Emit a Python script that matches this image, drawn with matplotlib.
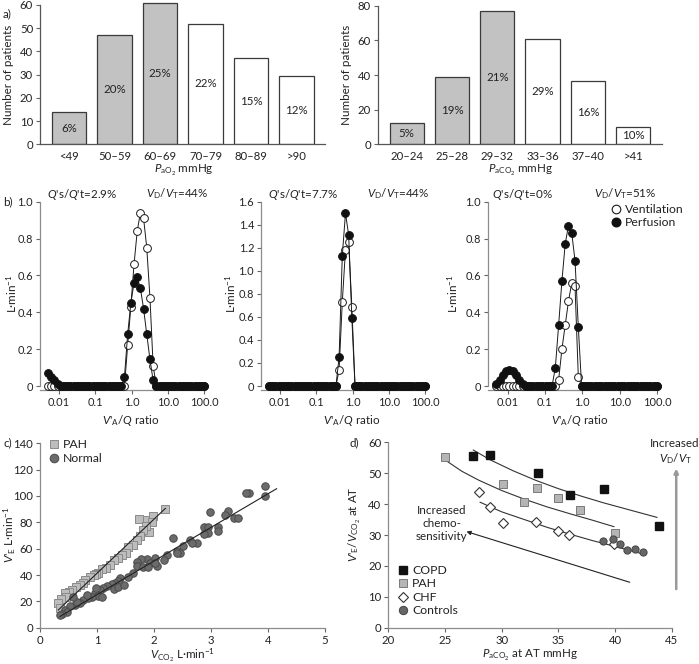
import matplotlib.pyplot as plt
import numpy as np
from matplotlib.lines import Line2D

plt.rcParams['font.family'] = ['Lato', 'DejaVu Sans']
plt.rcParams['font.size'] = 8.3
plt.rcParams['mathtext.fontset'] = 'custom'
plt.rcParams['mathtext.rm'] = 'Lato'
plt.rcParams['mathtext.it'] = 'Lato:italic'
plt.rcParams['mathtext.bf'] = 'Lato:bold'
plt.rcParams['text.color'] = '#222222'
plt.rcParams['xtick.color'] = '#666666'
plt.rcParams['ytick.color'] = '#666666'
plt.rcParams['xtick.labelcolor'] = '#222222'
plt.rcParams['ytick.labelcolor'] = '#222222'

W, H = 699, 664

# ---- a) patient counts
pao2_bins = ['<49', '50–59', '60–69', '70–79', '80–89', '>90']
pao2_counts = [14, 47, 61, 52, 37, 29.5]
pao2_pct = ['6%', '20%', '25%', '22%', '15%', '12%']
pao2_grey = [True, True, True, False, False, False]

paco2_bins = ['20–24', '25–28', '29–32', '33–36', '37–40', '>41']
paco2_counts = [12.5, 39, 77, 61, 36.5, 10]
paco2_pct = ['5%', '19%', '21%', '29%', '16%', '10%']
paco2_grey = [True, True, True, False, False, False]

# ---- b) V'A/Q distributions, 50 compartments 0.005-100
vq = np.geomspace(0.005, 100, 50)
b1_vent = [0]*25 + [0.22, 0.43, 0.66, 0.84, 0.94, 0.91, 0.75, 0.48, 0.11] + [0]*16
b1_perf = [0.072, 0.05, 0.03, 0.012] + [0]*20 + [0.05, 0.28, 0.45, 0.56, 0.59, 0.53, 0.42, 0.28, 0.145, 0.03] + [0]*16
b2_vent = [0]*22 + [0.14, 0.73, 1.18, 1.25, 0.69] + [0]*23
b2_perf = [0]*22 + [0.25, 1.13, 1.50, 1.31, 0.59] + [0]*23
b3_vent = [0]*19 + [0.033, 0.20, 0.33, 0.46, 0.56, 0.54, 0.05] + [0]*24
b3_perf = [0.01, 0.03, 0.06, 0.08, 0.088, 0.08, 0.06, 0.03, 0.01] + [0]*9 + [0.10, 0.33, 0.57, 0.77, 0.87, 0.83, 0.68, 0.32] + [0]*24
b_shunt = ['2.9%', '7.7%', '0%']
b_vdvt = ['44%', '44%', '51%']

# ---- c) VE vs VCO2
pah_vco2 = [2.19, 1.73, 1.87, 1.99, 1.96, 1.92, 1.86, 1.81, 1.75, 1.71, 1.64, 1.55, 1.51, 1.43, 1.37,
            1.29, 1.23, 1.16, 1.08, 1.02, 0.99, 0.94, 0.88, 0.79, 0.75, 0.70, 0.63, 0.57, 0.50, 0.44,
            0.46, 0.37, 0.32, 0.35]
pah_ve = [90.4, 82.5, 82, 84.8, 80.3, 72.9, 77.2, 74, 70, 66.6, 62.8, 61.5, 56.5, 55.2, 52.7,
          51.4, 47.6, 45, 44.3, 41.8, 40.8, 40, 38.7, 36.2, 34.2, 32.4, 31.1, 28.6, 27.3, 26,
          23.5, 21.5, 18.5, 14.7]
norm_vco2 = [3.95, 3.95, 3.67, 3.61, 3.29, 2.98, 3.25, 3.41, 3.48, 2.87, 2.94, 3.13, 3.13, 2.95, 2.87,
             2.33, 2.64, 2.75, 2.66, 2.50, 2.40, 2.46, 2.40, 2.23, 2.18, 2.02, 1.87, 1.78, 1.70, 1.70,
             1.81, 1.93, 2.05, 2.02, 1.90, 1.63, 1.55, 1.40, 1.36, 1.32, 1.26, 1.17, 1.11, 1.05, 0.96,
             1.02, 0.91, 0.85, 0.76, 0.70, 0.61, 0.53, 0.44, 0.47, 0.38, 0.35, 1.08, 1.29, 1.37, 1.47,
             0.99, 0.82, 0.65, 0.58]
norm_ve = [107.6, 100, 102.5, 102, 88.9, 87.6, 85.6, 83, 83, 76.7, 76.7, 76.7, 73.7, 71.6, 71.1,
           67.8, 66.6, 64.6, 64, 62.3, 58.2, 57, 56.5, 55.2, 51.4, 52.7, 51.9, 51.9, 50.1, 46.8,
           45.8, 48.9, 46.8, 48.9, 46.3, 41.8, 38.7, 37.5, 35.7, 34.2, 33.2, 31.9, 29.9, 28.6, 26.6,
           24.3, 23.5, 22.3, 21, 18.5, 17.2, 16.5, 13.4, 12.2, 10.4, 9.6, 23.5, 29.1, 31.1, 32.4,
           29.9, 24.8, 19.7, 23.5]
pah_fit_x = [0.32, 2.2]
pah_fit_y = [13.4, 90.6]
norm_fit_x = [0.35, 4.15]
norm_fit_y = [8.5, 105.5]

# ---- d) VE/VCO2 vs PaCO2 at AT
copd_x = [27.5, 29.0, 33.2, 36.0, 39.0, 43.9]
copd_y = [55.7, 55.9, 50.0, 42.9, 44.9, 33.0]
pah_x = [25.0, 30.1, 33.1, 32.0, 35.0, 36.9, 40.0]
pah_y = [55.4, 46.5, 45.1, 40.6, 41.9, 38.1, 30.8]
chf_x = [28.0, 29.0, 30.1, 33.0, 35.0, 35.9, 39.9]
chf_y = [43.8, 39.2, 33.8, 34.1, 31.3, 30.0, 27.1]
ctrl_x = [38.9, 39.8, 40.4, 41.1, 41.8, 42.5]
ctrl_y = [28.1, 28.6, 27.1, 25.1, 25.5, 24.6]
copd_curve_x = [27.5, 29, 31, 33, 35, 37, 39, 41, 43.7]
copd_curve_y = [57.5, 54.3, 50.8, 47.7, 45.0, 42.6, 40.4, 38.4, 35.7]
pah_curve_x = [25, 26.5, 28, 30, 32, 34, 36, 38, 39.9]
pah_curve_y = [54.3, 50.6, 47.7, 44.4, 41.6, 39.1, 36.9, 34.8, 32.7]
chf_curve_x = [28.1, 30, 32, 34, 36, 38, 40, 42.5]
chf_curve_y = [40.6, 37.5, 35.0, 32.5, 30.3, 28.2, 26.3, 23.8]


fig = plt.figure(figsize=(W / 100, H / 100), dpi=100)


def px_axes(left, top, right, bottom):
    return fig.add_axes([left / W, 1 - bottom / H, (right - left) / W, (bottom - top) / H])


def style(ax, spine='#8c8c8c'):
    for s in ['top', 'right']:
        ax.spines[s].set_visible(False)
    for s in ['left', 'bottom']:
        ax.spines[s].set_color(spine)
        ax.spines[s].set_linewidth(0.9)
    ax.tick_params(length=3, width=0.8, labelsize=8.2, pad=2)


def ftext(x, y, s, **kw):
    kw.setdefault('ha', 'center')
    kw.setdefault('va', 'center')
    kw.setdefault('fontsize', 8.4)
    fig.text(x / W, 1 - y / H, s, **kw)


def ylab(x, y, s):
    ftext(x, y, s, rotation=90)


# a) panels
def bar_panel(box, cats, counts, pct, grey, ymax, ytop, yticks):
    ax = px_axes(*box)
    style(ax, '#555555')
    cols = ['#c2c2c2' if g else 'white' for g in grey]
    ax.bar(range(len(cats)), counts, width=0.755, color=cols, edgecolor='#3a3a3a', linewidth=0.9)
    for i, (c, p) in enumerate(zip(counts, pct)):
        ax.text(i, c / 2, p, ha='center', va='center', fontsize=8.3)
    ax.set_xlim(-0.64, 5.63)
    ax.set_ylim(0, ymax)
    ax.spines['left'].set_bounds(0, ytop)
    ax.set_yticks(yticks)
    ax.set_xticks(range(len(cats)), cats)
    ax.tick_params(axis='x', length=0, pad=5)
    return ax


bar_panel((40, 0.3, 325, 144.3), pao2_bins, pao2_counts, pao2_pct, pao2_grey, 62, 60,
          range(0, 61, 10))
bar_panel((377.7, 5.7, 661.7, 144.3), paco2_bins, paco2_counts, paco2_pct, paco2_grey, 80, 80,
          range(0, 81, 20))
ftext(184, 170, r'$P_{\mathrm{aO}_2}$ mmHg')
ftext(521, 170, r'$P_{\mathrm{aCO}_2}$ mmHg')
ylab(9, 75, 'Number of patients')
ylab(347, 75, 'Number of patients')
ftext(3, 14, 'a)', ha='left')

# b) panels
b_boxes = [(40, 201.7, 205, 390), (261, 201.7, 426, 390), (488, 201.7, 658, 390)]
b_tops = [1.0, 1.6, 1.0]
b_vents = [b1_vent, b2_vent, b3_vent]
b_perfs = [b1_perf, b2_perf, b3_perf]
b_head_x = [(82, 177), (303, 398), (522, 625)]
b_xlab_x = [131, 352, 580]
b_ylab_x = [12, 231, 453]
for k in range(3):
    ax = px_axes(*b_boxes[k])
    style(ax)
    top = b_tops[k]
    ax.plot(vq, b_vents[k], '-o', color='#1a1a1a', lw=0.7, ms=5.6, mfc='white', mec='#1a1a1a',
            mew=0.7, clip_on=False, zorder=3)
    ax.plot(vq, b_perfs[k], '-o', color='#1a1a1a', lw=0.7, ms=5.6, mfc='#111111', mec='#111111',
            mew=0.7, clip_on=False, zorder=4)
    ax.set_xscale('log')
    ax.set_xlim(0.003, 106)
    ax.set_ylim(-0.0216 * top, top)
    ax.spines['left'].set_bounds(0, top)
    ax.set_xticks([0.01, 0.1, 1, 10, 100], ['0.01', '0.1', '1.0', '10.0', '100.0'])
    ax.minorticks_off()
    yt = np.round(np.arange(0, top + 0.01, 0.2), 1)
    ax.set_yticks(yt, ['0' if v == 0 else f'{v:.1f}' for v in yt])
    ax.tick_params(labelsize=7.9)
    ftext(b_xlab_x[k], 420, r"$V$'$_\mathrm{A}$/$Q$ ratio")
    ylab(b_ylab_x[k], 294, 'L·min$^{-1}$')
    ftext(b_head_x[k][0], 194, r"$Q$'s/$Q$'t=" + b_shunt[k])
    ftext(b_head_x[k][1], 194, r"$V_\mathrm{D}/V_\mathrm{T}$=" + b_vdvt[k])
    if k == 2:
        handles = [Line2D([], [], marker='o', ls='', ms=6.2, mfc='white', mec='#1a1a1a', mew=0.8),
                   Line2D([], [], marker='o', ls='', ms=6.2, mfc='#111111', mec='#111111')]
        fig.legend(handles, ['Ventilation', 'Perfusion'], loc='upper left',
                   bbox_to_anchor=(611 / W, 1 - 204 / H), frameon=False, fontsize=8.8,
                   handlelength=0.8, handletextpad=0.35, labelspacing=0.2, borderpad=0,
                   borderaxespad=0)
ftext(3, 202, 'b)', ha='left')

# c) panel
ax = px_axes(40, 443.3, 325, 627.7)
style(ax)
ax.plot(pah_vco2, pah_ve, 's', ms=5.2, mfc='#bdbdbd', mec='#8a8a8a', mew=0.7, clip_on=False, zorder=3)
ax.plot(norm_vco2, norm_ve, 'o', ms=5.4, mfc='#6b6b6b', mec='#4a4a4a', mew=0.7, clip_on=False, zorder=3)
ax.plot(pah_fit_x, pah_fit_y, color='#222222', lw=0.8, zorder=4)
ax.plot(norm_fit_x, norm_fit_y, color='#222222', lw=0.8, zorder=4)
ax.set_xlim(0, 5)
ax.set_ylim(0, 140)
ax.set_xticks(range(0, 6))
ax.set_yticks(range(0, 141, 20))
ftext(182, 655, r'$V_{\mathrm{CO}_2}$ L·min$^{-1}$')
ylab(10, 535, r"$V$'$_\mathrm{E}$ L·min$^{-1}$")
hc = [Line2D([], [], marker='s', ls='', ms=6.2, mfc='#bdbdbd', mec='#8a8a8a', mew=0.7),
      Line2D([], [], marker='o', ls='', ms=6.2, mfc='#6b6b6b', mec='#4a4a4a', mew=0.7)]
fig.legend(hc, ['PAH', 'Normal'], loc='upper left', bbox_to_anchor=(49 / W, 1 - 439 / H),
           frameon=False, fontsize=8.8, handlelength=0.8, handletextpad=0.35, labelspacing=0.25,
           borderpad=0, borderaxespad=0)
ftext(3, 443, 'c)', ha='left')

# d) panel
ax = px_axes(388.3, 442.3, 671.7, 627.7)
style(ax)
ax.plot(copd_curve_x, copd_curve_y, color='#333333', lw=0.8)
ax.plot(pah_curve_x, pah_curve_y, color='#333333', lw=0.8)
ax.plot(chf_curve_x, chf_curve_y, color='#333333', lw=0.8)
ax.plot(copd_x, copd_y, 's', ms=5.2, mfc='#111111', mec='#111111', clip_on=False, zorder=3)
ax.plot(pah_x, pah_y, 's', ms=5.2, mfc='#b5b5b5', mec='#7a7a7a', mew=0.7, clip_on=False, zorder=3)
ax.plot(chf_x, chf_y, 'D', ms=5.0, mfc='white', mec='#333333', mew=0.8, clip_on=False, zorder=3)
ax.plot(ctrl_x, ctrl_y, 'o', ms=5.2, mfc='#666666', mec='#444444', mew=0.7, clip_on=False, zorder=3)
ax.set_xlim(20, 45)
ax.set_ylim(0, 60)
ax.set_xticks(range(20, 46, 5))
ax.set_yticks(range(0, 61, 10))
ftext(530, 655, r'$P_{\mathrm{aCO}_2}$ at AT mmHg')
ylab(355, 524, r"$V$'$_\mathrm{E}$/$V_{\mathrm{CO}_2}$ at AT")
ax.annotate('', xy=(26.9, 31.1), xytext=(41.3, 14.7),
            arrowprops=dict(arrowstyle='-|>', color='#222222', lw=0.8, mutation_scale=6,
                            shrinkA=0, shrinkB=0))
ax.annotate('', xy=(45.4, 51.5), xytext=(45.4, 12.5), annotation_clip=False,
            arrowprops=dict(arrowstyle='-|>', color='#999999', lw=1.8, mutation_scale=6,
                            shrinkA=0, shrinkB=0))
ax.text(24.7, 33.8, 'Increased\nchemo-\nsensitivity', ha='center', va='center', fontsize=8.4,
        linespacing=1.25)
ax.text(45.3, 56.9, 'Increased\n$V_\\mathrm{D}/V_\\mathrm{T}$', ha='center', va='center',
        fontsize=8.4, linespacing=1.2, clip_on=False)
hd = [Line2D([], [], marker='s', ls='', ms=6, mfc='#111111', mec='#111111'),
      Line2D([], [], marker='s', ls='', ms=6, mfc='#b5b5b5', mec='#7a7a7a', mew=0.7),
      Line2D([], [], marker='D', ls='', ms=5.5, mfc='white', mec='#333333', mew=0.8),
      Line2D([], [], marker='o', ls='', ms=6, mfc='#666666', mec='#444444', mew=0.7)]
fig.legend(hd, ['COPD', 'PAH', 'CHF', 'Controls'], loc='upper left',
           bbox_to_anchor=(398 / W, 1 - 565 / H), frameon=False, fontsize=8.8, handlelength=0.8,
           handletextpad=0.35, labelspacing=0.2, borderpad=0, borderaxespad=0)
ftext(350, 443, 'd)', ha='left')

fig.savefig('out.png', dpi=100)
